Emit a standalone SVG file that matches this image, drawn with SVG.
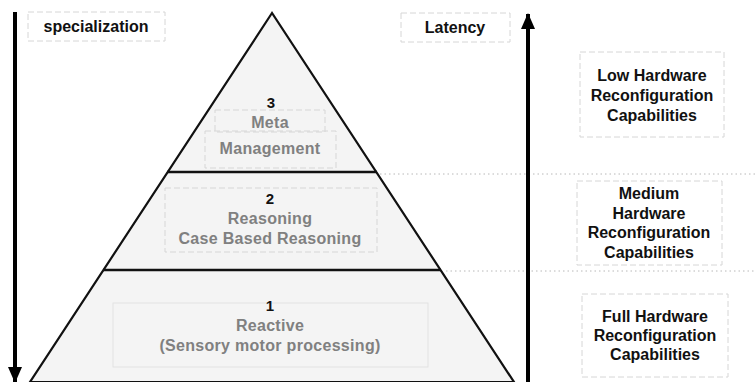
<svg xmlns="http://www.w3.org/2000/svg" width="755" height="382" viewBox="0 0 755 382">
  <style>
    .lbl { font-family: "Liberation Sans", Arial, sans-serif; font-weight: bold; font-size: 16px; fill: #111; text-anchor: middle; }
    .tier { font-family: "Liberation Sans", Arial, sans-serif; font-weight: bold; font-size: 16px; fill: #808080; text-anchor: middle; letter-spacing: 0.3px; }
    .num { font-family: "Liberation Sans", Arial, sans-serif; font-weight: bold; font-size: 15px; fill: #111; text-anchor: middle; }
    .dbox { fill: none; stroke: #d6d6d6; stroke-width: 1; stroke-dasharray: 6 3; }
    .sbox { fill: none; stroke: #e2e2e2; stroke-width: 1; }
    .sep { fill: none; stroke: #111; stroke-width: 2.5; }
    .dot { fill: none; stroke: #b8b8b8; stroke-width: 1; stroke-dasharray: 1.5 3; }
    .axis { fill: none; stroke: #000; stroke-width: 4; }
  </style>
  <defs>
    <marker id="head" viewBox="0 0 16 14" refX="15" refY="7" markerWidth="16" markerHeight="14" markerUnits="userSpaceOnUse" orient="auto">
      <path d="M0,0 L16,7 L0,14 Z" fill="#000"/>
    </marker>
  </defs>

  <rect width="755" height="382" fill="#fff"/>

  <!-- pyramid body -->
  <g id="pyramid">
    <polygon points="272,13 30,382 514,382" fill="#f4f4f4" stroke="#111" stroke-width="2.2" stroke-linejoin="miter"/>
    <line class="sep" x1="167" y1="172" x2="377" y2="172"/>
    <line class="sep" x1="103" y1="270" x2="441" y2="270"/>
  </g>

  <!-- level separators continued to the right -->
  <g id="guides">
    <line class="dot" x1="380" y1="174" x2="755" y2="174"/>
    <line class="dot" x1="446" y1="271" x2="755" y2="271"/>
  </g>

  <g id="tier3">
    <rect class="dbox" x="215" y="110" width="110" height="22"/>
    <rect class="dbox" x="205" y="131" width="131" height="37"/>
    <text class="num" x="271" y="108">3</text>
    <text class="tier" x="270" y="128">Meta</text>
    <text class="tier" x="270" y="154">Management</text>
  </g>

  <g id="tier2">
    <rect class="dbox" x="165" y="188" width="212" height="64"/>
    <text class="num" x="270" y="204">2</text>
    <text class="tier" x="270" y="224">Reasoning</text>
    <text class="tier" x="270" y="244">Case Based Reasoning</text>
  </g>

  <g id="tier1">
    <rect class="sbox" x="113" y="303" width="315" height="64"/>
    <text class="num" x="270" y="311">1</text>
    <text class="tier" x="270" y="331">Reactive</text>
    <text class="tier" x="270" y="351">(Sensory motor processing)</text>
  </g>

  <g id="specialization">
    <rect class="dbox" x="28" y="12" width="137" height="29"/>
    <text class="lbl" x="96" y="32">specialization</text>
  </g>

  <g id="latency">
    <rect class="dbox" x="401" y="13" width="109" height="29"/>
    <text class="lbl" x="455" y="33">Latency</text>
  </g>

  <g id="low-hw">
    <rect class="dbox" x="580" y="52" width="144" height="85"/>
    <text class="lbl" x="652" y="81">Low Hardware</text>
    <text class="lbl" x="652" y="101">Reconfiguration</text>
    <text class="lbl" x="652" y="121">Capabilities</text>
  </g>

  <g id="medium-hw">
    <rect class="dbox" x="577" y="181" width="145" height="84"/>
    <text class="lbl" x="649" y="199">Medium</text>
    <text class="lbl" x="649" y="219">Hardware</text>
    <text class="lbl" x="649" y="238">Reconfiguration</text>
    <text class="lbl" x="649" y="258">Capabilities</text>
  </g>

  <g id="full-hw">
    <rect class="dbox" x="582" y="294" width="146" height="83"/>
    <text class="lbl" x="655" y="322">Full Hardware</text>
    <text class="lbl" x="655" y="341">Reconfiguration</text>
    <text class="lbl" x="655" y="360">Capabilities</text>
  </g>

  <!-- axis arrows -->
  <g id="connectors">
    <line class="axis" x1="15" y1="12" x2="15" y2="382" marker-end="url(#head)"/>
    <line class="axis" x1="528" y1="382" x2="528" y2="14" marker-end="url(#head)"/>
  </g>
</svg>
